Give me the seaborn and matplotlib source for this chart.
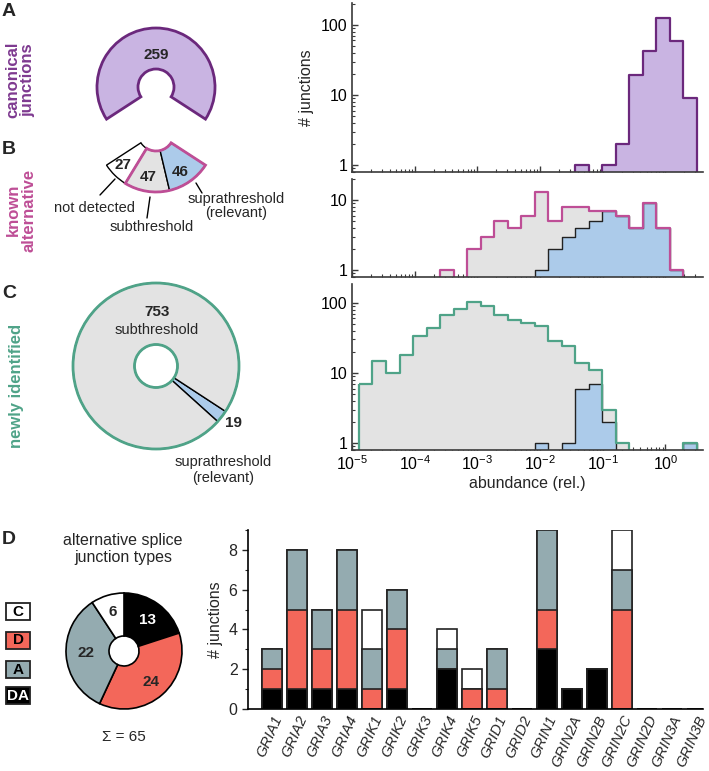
import numpy as np
import pandas as pd
import matplotlib
matplotlib.use("Agg")
import matplotlib.pyplot as plt
import seaborn as sns
from matplotlib.patches import Rectangle
from matplotlib.ticker import LogLocator, NullFormatter, MultipleLocator

# ---------------- data ----------------
# histogram bins (log10 of relative abundance), uniform bins as in the figure
bin_edges_log10 = -4.889 + 0.2157 * np.arange(26)

canonical_counts = [0, 0, 0, 0, 0, 0, 0, 0, 0, 0, 0, 0, 0, 0, 0, 0,
                    1, 0, 1, 2, 19, 42, 127, 58, 9]
known_total_counts = [0, 0, 0, 0, 0, 0, 1, 0, 2, 3, 5, 4, 6, 13, 5, 8, 8, 7,
                      7, 6, 4, 9, 4, 1, 0]
known_supra_counts = [0, 0, 0, 0, 0, 0, 0, 0, 0, 0, 0, 0, 0, 1, 2, 3, 4, 5,
                      7, 6, 4, 9, 4, 1, 0]
new_total_counts = [7, 15, 10, 18, 34, 43, 66, 81, 104, 90, 67, 57, 51, 46,
                    29, 24, 14, 11, 3, 1, 0, 0, 0, 0, 1]
new_supra_counts = [0, 0, 0, 0, 0, 0, 0, 0, 0, 0, 0, 0, 0, 1, 0, 1, 6, 7,
                    2, 0, 0, 0, 0, 0, 1]

pie_canonical_n = 259
pie_known = [27, 47, 46]          # not detected, subthreshold, suprathreshold
pie_new = [753, 19]               # subthreshold, suprathreshold

genes = ["GRIA1", "GRIA2", "GRIA3", "GRIA4", "GRIK1", "GRIK2", "GRIK3",
         "GRIK4", "GRIK5", "GRID1", "GRID2", "GRIN1", "GRIN2A", "GRIN2B",
         "GRIN2C", "GRIN2D", "GRIN3A", "GRIN3B"]
type_DA = [1, 1, 1, 1, 0, 1, 0, 2, 0, 0, 0, 3, 1, 2, 0, 0, 0, 0]
type_D = [1, 4, 2, 4, 1, 3, 0, 0, 1, 1, 0, 2, 0, 0, 5, 0, 0, 0]
type_A = [1, 3, 2, 3, 2, 2, 0, 1, 0, 2, 0, 4, 0, 0, 2, 0, 0, 0]
type_C = [0, 0, 0, 0, 2, 0, 0, 1, 1, 0, 0, 0, 0, 0, 2, 0, 0, 0]
type_names = ["C", "D", "A", "DA"]

# ---------------- style ----------------
purple_fill = "#C9B4E2"
purple_edge = "#6B287C"
purple_text = "#7E3A90"
pink = "#BE4E96"
grey_fill = "#E3E3E3"
blue_fill = "#ACCBEA"
green = "#4FA388"
red = "#F3675A"
slate = "#94ABB0"

sns.set_style("ticks")
plt.rcParams['font.family'] = ['Liberation Sans', 'DejaVu Sans']
plt.rcParams['mathtext.fontset'] = 'custom'
plt.rcParams['mathtext.rm'] = 'Liberation Sans'
plt.rcParams['mathtext.it'] = 'Liberation Sans:italic'
plt.rcParams['mathtext.bf'] = 'Liberation Sans:bold'

W, H = 709, 771
fig = plt.figure(figsize=(W / 100, H / 100), dpi=100)


def box(x0, y0, x1, y1):
    return [x0 / W, 1 - y1 / H, (x1 - x0) / W, (y1 - y0) / H]


def Y(y):
    return H - y


ax_p = fig.add_axes([0, 0, 1, 1])
ax_A = fig.add_axes(box(352, 3, 703, 172))
ax_B = fig.add_axes(box(352, 179, 703, 277))
ax_C = fig.add_axes(box(352, 284, 703, 450))
ax_D = fig.add_axes(box(248, 530, 703, 709))

# ---------------- histograms ----------------
edges = list(10 ** bin_edges_log10)
centers = 10 ** ((bin_edges_log10[:-1] + bin_edges_log10[1:]) / 2)


def hist(ax, counts, face, edge, lw, z):
    d = pd.DataFrame({"abundance": centers, "n": counts})
    sns.histplot(data=d, x="abundance", weights="n", bins=edges,
                 element="step", fill=True, color=edge if edge != "none" else face,
                 facecolor=face, edgecolor=edge,
                 linewidth=lw, alpha=1, ax=ax, zorder=z)


hist(ax_A, canonical_counts, purple_fill, purple_edge, 1.6, 2)

hist(ax_B, known_total_counts, grey_fill, "none", 0, 1)
hist(ax_B, known_supra_counts, blue_fill, "#222222", 1.0, 2)
hist(ax_B, known_total_counts, "none", pink, 1.6, 3)

hist(ax_C, new_total_counts, grey_fill, "none", 0, 1)
hist(ax_C, new_supra_counts, blue_fill, "#222222", 1.0, 2)
hist(ax_C, new_total_counts, "none", green, 1.6, 3)

for ax, top, yt in [(ax_A, 205, [1, 10, 100]), (ax_B, 20, [1, 10]),
                    (ax_C, 185, [1, 10, 100])]:
    ax.set_xscale('log')
    ax.set_yscale('log')
    ax.set_xlim(1e-5, 10 ** 0.6)
    ax.set_ylim(0.8, top)
    ax.set_yticks(yt)
    ax.set_yticklabels([str(v) for v in yt])
    ax.yaxis.set_minor_locator(LogLocator(base=10, subs=np.arange(2, 10) * 1.0, numticks=30))
    ax.yaxis.set_minor_formatter(NullFormatter())
    ax.set_xticks(10.0 ** np.arange(-5, 1))
    ax.xaxis.set_minor_locator(LogLocator(base=10, subs=np.arange(2, 10) * 1.0, numticks=30))
    ax.xaxis.set_minor_formatter(NullFormatter())
    sns.despine(ax=ax)
    for s in ["left", "bottom"]:
        ax.spines[s].set_linewidth(1.2)
        ax.spines[s].set_color("#3a3a3a")
        ax.spines[s].set_zorder(5)
    ax.tick_params(which='both', direction='in', colors="#3a3a3a",
                   labelcolor="black", labelsize=11.5, pad=3)
    ax.tick_params(which='major', length=4, width=1)
    ax.tick_params(which='minor', length=2.5, width=0.8)
    ax.set_xlabel("")
    ax.set_ylabel("")
    ax.set_facecolor("none")

ax_A.set_xticklabels([])
ax_B.set_xticklabels([])
ax_C.set_xticklabels(["$10^{%d}$" % e for e in range(-5, 1)])
ax_A.set_ylabel("# junctions", fontsize=11.5, labelpad=5)
ax_C.set_xlabel("abundance (rel.)", fontsize=11.5, labelpad=2)

# ---------------- stacked bars ----------------
df = pd.DataFrame({"gene": genes, "DA": type_DA, "D": type_D,
                   "A": type_A, "C": type_C})
df["cum_D"] = df["DA"] + df["D"]
df["cum_A"] = df["cum_D"] + df["A"]
df["cum_C"] = df["cum_A"] + df["C"]

for col, colr in [("cum_C", "white"), ("cum_A", slate), ("cum_D", red),
                  ("DA", "black")]:
    sns.barplot(data=df, x="gene", y=col, order=genes, color=colr,
                saturation=1, edgecolor="#222222", linewidth=1.2,
                errorbar=None, width=0.8, ax=ax_D)

ax_D.set_xlim(-0.95, 17.25)
ax_D.set_ylim(0, 9)
ax_D.set_yticks([0, 2, 4, 6, 8])
ax_D.yaxis.set_minor_locator(MultipleLocator(1))
ax_D.set_xticks(range(len(genes)))
ax_D.set_xticklabels(genes, rotation=66, ha='right', rotation_mode='anchor',
                     style='italic', fontsize=10.5)
ax_D.set_xlabel("")
ax_D.set_ylabel("# junctions", fontsize=11.5, labelpad=4)
sns.despine(ax=ax_D)
for s in ["left", "bottom"]:
    ax_D.spines[s].set_linewidth(1.2)
    ax_D.spines[s].set_color("black")
ax_D.tick_params(axis='y', which='major', length=4, width=1, labelsize=11.5)
ax_D.tick_params(axis='y', which='minor', length=2.5, width=0.8)
ax_D.tick_params(axis='x', length=0, pad=3)
ax_D.set_facecolor("none")

# ---------------- pies ----------------
known_total = sum(pie_known)
wA, _ = ax_p.pie([pie_canonical_n, known_total], startangle=-33, radius=59,
                 center=(156, Y(87)), colors=[purple_fill, 'none'],
                 wedgeprops=dict(width=41, edgecolor=purple_edge, linewidth=2))
wA[1].set_visible(False)

wB, _ = ax_p.pie(pie_known + [pie_canonical_n], startangle=213, radius=59,
                 center=(156, Y(133)),
                 colors=['white', grey_fill, blue_fill, 'none'],
                 wedgeprops=dict(width=41, edgecolor='black', linewidth=1))
wB[3].set_visible(False)
wB2, _ = ax_p.pie([pie_known[0], pie_known[1] + pie_known[2], pie_canonical_n],
                  startangle=213, radius=59, center=(156, Y(133)),
                  colors=['none', 'none', 'none'],
                  wedgeprops=dict(width=41, edgecolor=pink, linewidth=2))
wB2[0].set_visible(False)
wB2[2].set_visible(False)

ax_p.pie([pie_new[1], pie_new[0]], startangle=-42, radius=83,
         center=(156, Y(366)), colors=[blue_fill, grey_fill],
         wedgeprops=dict(width=61.5, edgecolor='black', linewidth=1))
ax_p.pie([1], radius=83, center=(156, Y(366)), colors=['none'],
         wedgeprops=dict(width=61.5, edgecolor=green, linewidth=2))

type_pie = [sum(type_DA), sum(type_D), sum(type_A), sum(type_C)]
ax_p.pie(type_pie, startangle=90, counterclock=False, radius=58,
         center=(124, Y(651)), colors=['black', red, slate, 'white'],
         wedgeprops=dict(width=43, edgecolor='black', linewidth=1.2))

ax_p.set_xlim(0, W)
ax_p.set_ylim(0, H)
ax_p.set_aspect('auto')
ax_p.set_axis_off()

T = ax_p.text
num = dict(fontsize=11, fontweight='bold', ha='center', va='center')
T(156, Y(55), str(pie_canonical_n), **num)
T(123, Y(165), str(pie_known[0]), **num)
T(148, Y(177), str(pie_known[1]), **num)
T(180, Y(172), str(pie_known[2]), **num)
T(157, Y(312), str(pie_new[0]), **num)
T(157, Y(330), "subthreshold", fontsize=10.5, ha='center', va='center')
T(233, Y(423), str(pie_new[1]), **num)
T(148, Y(620), str(type_pie[0]), color='white', **num)
T(151, Y(682), str(type_pie[1]), **num)
T(86, Y(653), str(type_pie[2]), **num)
T(113, Y(612), str(type_pie[3]), **num)

lab = dict(fontsize=10.5, ha='center', va='center')
T(95, Y(208), "not detected", **lab)
T(152, Y(227), "subthreshold", **lab)
T(236, Y(206.5), "suprathreshold\n(relevant)", linespacing=1.0, **lab)
T(223, Y(470), "suprathreshold\n(relevant)", linespacing=1.1, **lab)
ax_p.plot([100, 115], [Y(195), Y(179)], color='black', lw=1)
ax_p.plot([150, 147], [Y(197), Y(218)], color='black', lw=1)
ax_p.plot([196, 202], [Y(183), Y(193)], color='black', lw=1)

side = dict(fontsize=12, fontweight='bold', ha='center', va='center',
            rotation=90, linespacing=1.0, multialignment='center')
T(20, Y(80), "canonical\njunctions", color=purple_text, **side)
T(21, Y(210), "known\nalternative", color=pink, **side)
T(17, Y(386), "newly identified", color=green, **side)

let = dict(fontsize=14, fontweight='bold', ha='center', va='center')
T(9, Y(12), "A", **let)
T(9, Y(150), "B", **let)
T(9, Y(293), "C", **let)
T(9, Y(540), "D", **let)

T(123, Y(549), "alternative splice\njunction types", fontsize=11.5,
  ha='center', va='center', linespacing=1.1)
T(124, Y(737), "Σ = %d" % sum(type_pie), fontsize=11, ha='center', va='center')

legend_y = [603, 632, 661, 687]
legend_face = ['white', red, slate, 'black']
legend_txt = ['black', 'black', 'black', 'white']
for name, y0, fc, tc in zip(type_names, legend_y, legend_face, legend_txt):
    ax_p.add_patch(Rectangle((6, Y(y0 + 16.5)), 24, 16.5, facecolor=fc,
                             edgecolor='#222222', linewidth=1.3))
    T(18, Y(y0 + 8.5), name, color=tc, fontsize=11, fontweight='bold',
      ha='center', va='center')

fig.savefig("out.png", dpi=100)
